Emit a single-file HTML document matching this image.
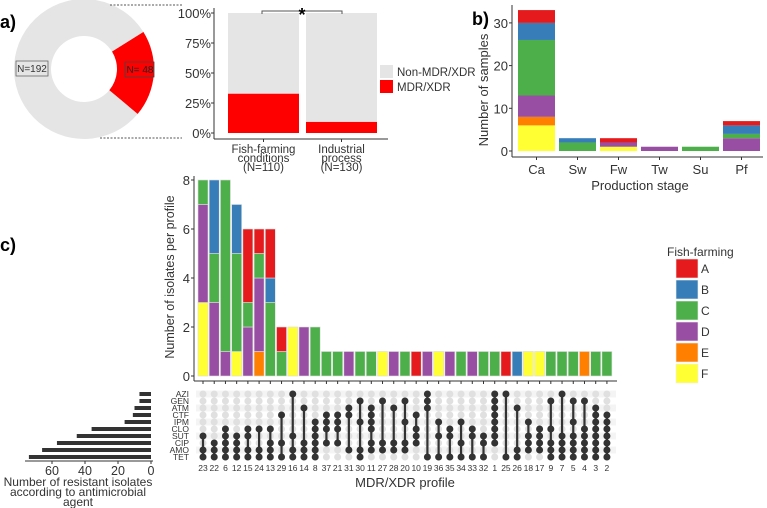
<!DOCTYPE html>
<html><head><meta charset="utf-8"><style>
body{margin:0;background:#fff;width:767px;height:508px;overflow:hidden}
svg{font-family:"Liberation Sans",Arial,sans-serif;display:block}
</style></head><body>
<svg id="fig" width="767" height="508" viewBox="0 0 767 508" xmlns="http://www.w3.org/2000/svg">
<g id="ga"></g>
<g id="gb"></g>
<g id="gc"></g>
</svg>
<script>
// ---- data ----
const farmColors = {A:'#E41A1C',B:'#377EB8',C:'#4DAF4A',D:'#984EA3',E:'#FF7F00',F:'#FFFF33'};
const farmOrder = ['F','E','D','C','B','A'];
const donutValues = [192, 48];
const pctCategories = ['Fish-farming conditions','Industrial process'];
const pctMdr = [36, 12];
const pctTotal = [110, 130];
const pctTicks = [0,25,50,75,100];
const stageCats = ['Ca','Sw','Fw','Tw','Su','Pf'];
const stageA = [3,0,1,0,0,1];
const stageB = [4,1,0,0,0,2];
const stageC = [13,2,0,0,1,1];
const stageD = [5,0,1,1,0,3];
const stageE = [2,0,0,0,0,0];
const stageF = [6,0,1,0,0,0];
const stageTicks = [0,10,20,30];
const profiles = ['23','22','6','12','15','24','13','29','16','14','8','37','21','31','30','11','27','28','20','10','19','36','35','34','33','32','1','25','26','18','17','9','7','5','4','3','2'];
const profA = [0,0,0,0,3,1,2,1,0,0,0, 0,0,0,0,0,0,0,0,1,0,0,0,0,0,0,0,1,0,0,0,0,0,0,0,0,0];
const profB = [0,3,0,2,0,0,1,0,0,0,0, 0,0,0,0,0,0,0,0,0,0,0,0,0,0,0,0,0,1,0,0,0,0,0,0,0,0];
const profC = [1,2,7,4,1,1,3,1,0,0,2, 1,1,0,1,1,0,0,1,0,0,0,0,1,0,1,1,0,0,0,0,1,1,1,0,1,1];
const profD = [4,3,1,0,2,3,0,0,0,2,0, 0,0,1,0,0,0,1,0,0,1,0,1,0,1,0,0,0,0,0,0,0,0,0,0,0,0];
const profE = [0,0,0,0,0,1,0,0,0,0,0, 0,0,0,0,0,0,0,0,0,0,0,0,0,0,0,0,0,0,0,0,0,0,0,1,0,0];
const profF = [3,0,0,1,0,0,0,0,2,0,0, 0,0,0,0,0,1,0,0,0,0,1,0,0,0,0,0,0,0,1,1,0,0,0,0,0,0];
const profTicks = [0,2,4,6,8];
const agents = ['AZI','GEN','ATM','CTF','IPM','CLO','SUT','CIP','AMO','TET'];
const agentCounts = [7,7,10,11,16,36,45,57,66,74];
const agentTicks = [0,20,40,60];
const profSets = [
 ['SUT','AMO','TET'],['CIP','AMO','TET'],['CLO','SUT','CIP','AMO','TET'],['SUT','CIP','AMO','TET'],
 ['CLO','SUT','AMO','TET'],['CLO','AMO','TET'],['CLO','CIP','AMO','TET'],['CTF','CIP','TET'],
 ['AZI','SUT','AMO','TET'],['ATM','CIP','AMO','TET'],['IPM','CLO','SUT','CIP','AMO','TET'],
 ['CTF','IPM','CLO','CIP'],['CTF','IPM','CLO','CIP'],['ATM','CTF','AMO'],['GEN','IPM','AMO','TET'],
 ['ATM','CTF','IPM','CLO','CIP','AMO'],['GEN','CIP','AMO'],['ATM','CIP','AMO'],['GEN','IPM','CIP','AMO'],
 ['CTF','CLO','SUT','CIP'],['AZI','GEN','ATM','TET'],['IPM','SUT','TET'],['CLO','SUT','TET'],
 ['IPM','CIP','TET'],['CLO','SUT','TET'],['SUT','CIP','TET'],
 ['AZI','GEN','ATM','CTF','IPM','CLO','SUT','CIP'],['AZI','TET'],['ATM','AMO','TET'],
 ['IPM','SUT','CIP','AMO'],['CLO','SUT','CIP','AMO'],['GEN','CLO','CIP','AMO','TET'],
 ['AZI','SUT','CIP','AMO','TET'],['GEN','IPM','SUT','CIP','AMO','TET'],['GEN','CLO','SUT','CIP','AMO','TET'],
 ['ATM','CTF','IPM','CLO','SUT','CIP','AMO','TET'],['CTF','IPM','CLO','SUT','CIP','AMO','TET']
];

const NS='http://www.w3.org/2000/svg';
function mk(parent,tag,attrs,text){const e=document.createElementNS(NS,tag);for(const k in attrs)e.setAttribute(k,attrs[k]);if(text!==undefined)e.textContent=text;parent.appendChild(e);return e;}

// ---- panel a ----
const ga=document.getElementById('ga');
let t=mk(ga,'text',{x:0,y:28,'font-size':18,'font-weight':'bold'},'a)');


const cx=84,cy=69,R=70,r=33;
const tot=donutValues[0]+donutValues[1];
const startDeg=-32;
function arc(a0,a1,col,name){
  const p=(a,rr)=>[cx+rr*Math.cos(a*Math.PI/180),cy+rr*Math.sin(a*Math.PI/180)];
  const [x0,y0]=p(a0,R),[x1,y1]=p(a1,R),[x2,y2]=p(a1,r),[x3,y3]=p(a0,r);
  const lg=(a1-a0)>180?1:0;
  const e=mk(ga,'path',{d:`M${x0},${y0}A${R},${R} 0 ${lg} 1 ${x1},${y1}L${x2},${y2}A${r},${r} 0 ${lg} 0 ${x3},${y3}Z`,fill:col});
  
  
}
const redSpan=donutValues[1]/tot*360;
arc(startDeg,startDeg+redSpan,'#FF0000','donut-mdr-slice');
arc(startDeg+redSpan,startDeg+360,'#E5E5E5','donut-non-mdr-slice');
mk(ga,'rect',{x:16,y:61,width:32,height:15,fill:'#E5E5E5',stroke:'#666','stroke-width':0.8});
t=mk(ga,'text',{x:32,y:72,'font-size':10,'text-anchor':'middle',fill:'#333'},'N='+donutValues[0]);


mk(ga,'rect',{x:125,y:62,width:29,height:15,fill:'#FF0000',stroke:'#444','stroke-width':0.8});
t=mk(ga,'text',{x:140,y:73,'font-size':10,'text-anchor':'middle',fill:'#222'},'N= '+donutValues[1]);


mk(ga,'line',{x1:110,y1:5,x2:182,y2:5,stroke:'#555','stroke-dasharray':'2,1.5'});
mk(ga,'line',{x1:100,y1:138,x2:182,y2:138,stroke:'#555','stroke-dasharray':'2,1.5'});
// percent bars
const py=v=>133-v*1.2;
pctTicks.forEach(v=>{
  t=mk(ga,'text',{x:211,y:py(v)+5,'font-size':13,'text-anchor':'end',fill:'#333'},v+'%');
  
  
  mk(ga,'line',{x1:211,y1:py(v),x2:214,y2:py(v),stroke:'#333'});
});
mk(ga,'line',{x1:214,y1:8,x2:214,y2:139,stroke:'#333'});
mk(ga,'line',{x1:214,y1:139,x2:388,y2:139,stroke:'#333'});
const pbx=[228,306];
pctCategories.forEach((c,i)=>{
  const m=pctMdr[i]/pctTotal[i]*100;
  let b=mk(ga,'rect',{x:pbx[i],y:py(100),width:71,height:py(m)-py(100),fill:'#E5E5E5'});
  
  
  b=mk(ga,'rect',{x:pbx[i],y:py(m),width:71,height:py(0)-py(m),fill:'#FF0000'});
  
  
  const xm=pbx[i]+35.5;
  mk(ga,'line',{x1:xm,y1:139,x2:xm,y2:142,stroke:'#333'});
  const lines=i===0?['Fish-farming','conditions','(N='+pctTotal[i]+')']:['Industrial','process','(N='+pctTotal[i]+')'];
  lines.forEach((s,j)=>{t=mk(ga,'text',{x:xm,y:153+j*9,'font-size':11.5,'text-anchor':'middle',fill:'#333'},s);
    
    });
});
mk(ga,'path',{d:'M262,14V11H342V14',fill:'none',stroke:'#555'});
t=mk(ga,'text',{x:302,y:21,'font-size':18,'font-weight':'bold','text-anchor':'middle'},'*');


mk(ga,'rect',{x:380,y:65,width:13,height:13,fill:'#E5E5E5'});
t=mk(ga,'text',{x:397,y:76,'font-size':11.5,fill:'#333'},'Non-MDR/XDR');


mk(ga,'rect',{x:380,y:80,width:13,height:13,fill:'#FF0000'});
t=mk(ga,'text',{x:397,y:91,'font-size':11.5,fill:'#333'},'MDR/XDR');



// ---- panel b ----
const gb=document.getElementById('gb');
t=mk(gb,'text',{x:472,y:25,'font-size':18,'font-weight':'bold'},'b)');


const by=v=>151-v*4.27;
stageTicks.forEach(v=>{
  t=mk(gb,'text',{x:508,y:by(v)+5,'font-size':13,'text-anchor':'end',fill:'#333'},v);
  
  
  mk(gb,'line',{x1:509,y1:by(v),x2:512,y2:by(v),stroke:'#333'});
});
mk(gb,'line',{x1:512,y1:5,x2:512,y2:157,stroke:'#333'});
mk(gb,'line',{x1:512,y1:157,x2:763,y2:157,stroke:'#333'});
const stageSeries={A:stageA,B:stageB,C:stageC,D:stageD,E:stageE,F:stageF};
stageCats.forEach((c,i)=>{
  const x0=518+i*41;let acc=0;
  farmOrder.forEach(f=>{const v=stageSeries[f][i];if(!v)return;
    const b=mk(gb,'rect',{x:x0,y:by(acc+v),width:37,height:by(acc)-by(acc+v),fill:farmColors[f]});
    
    
    acc+=v;});
  mk(gb,'line',{x1:x0+18.5,y1:157,x2:x0+18.5,y2:160,stroke:'#333'});
  t=mk(gb,'text',{x:x0+18.5,y:174,'font-size':13,'text-anchor':'middle',fill:'#333'},c);
  
  
});
t=mk(gb,'text',{x:640,y:190,'font-size':13,'text-anchor':'middle',fill:'#333'},'Production stage');


t=mk(gb,'text',{x:0,y:0,'font-size':13,'text-anchor':'middle',fill:'#333',transform:'translate(488,90) rotate(-90)'},'Number of samples');



// ---- panel c ----
const gc=document.getElementById('gc');
t=mk(gc,'text',{x:0,y:251,'font-size':18,'font-weight':'bold'},'c)');


const cyv=v=>376-v*24.5;
const colX=i=>203+i*11.22;
profTicks.forEach(v=>{
  t=mk(gc,'text',{x:190,y:cyv(v)+5,'font-size':13,'text-anchor':'end',fill:'#333'},v);
  
  
  mk(gc,'line',{x1:191,y1:cyv(v),x2:194,y2:cyv(v),stroke:'#333'});
});
mk(gc,'line',{x1:194,y1:176,x2:194,y2:381,stroke:'#333'});
mk(gc,'line',{x1:194,y1:381,x2:617,y2:381,stroke:'#333'});
t=mk(gc,'text',{x:0,y:0,'font-size':12.5,'text-anchor':'middle',fill:'#333',transform:'translate(174,277) rotate(-90)'},'Number of isolates per profile');


const profSeries={A:profA,B:profB,C:profC,D:profD,E:profE,F:profF};
profiles.forEach((p,i)=>{
  let acc=0;const x0=colX(i)-5;
  farmOrder.forEach(f=>{const v=profSeries[f][i];if(!v)return;
    const b=mk(gc,'rect',{x:x0,y:cyv(acc+v),width:10,height:cyv(acc)-cyv(acc+v),fill:farmColors[f],stroke:'#ddd','stroke-width':0.6});
    
    
    acc+=v;});
  mk(gc,'line',{x1:colX(i),y1:381,x2:colX(i),y2:384,stroke:'#333'});
});
// matrix
const rowY=j=>394+j*7;
agents.forEach((a,j)=>{
  if(j%2===0) mk(gc,'rect',{x:196,y:rowY(j)-3.5,width:420,height:7,fill:'#F4F4F4'});
  t=mk(gc,'text',{x:189,y:rowY(j)+3,'font-size':8.5,'text-anchor':'end',fill:'#333'},a);
  
  
});
profiles.forEach((p,i)=>{
  const x=colX(i);
  agents.forEach((a,j)=>mk(gc,'circle',{cx:x,cy:rowY(j),r:3.5,fill:'#E0E0E0'}));
  const idx=profSets[i].map(a=>agents.indexOf(a));
  const mn=Math.min(...idx),mx=Math.max(...idx);
  mk(gc,'line',{x1:x,y1:rowY(mn),x2:x,y2:rowY(mx),stroke:'#333','stroke-width':2.2});
  idx.forEach(j=>{const d=mk(gc,'circle',{cx:x,cy:rowY(j),r:3.5,fill:'#333'});
    
    });
  t=mk(gc,'text',{x:x,y:471,'font-size':8.5,'text-anchor':'middle',fill:'#333'},p);
  
  
});
t=mk(gc,'text',{x:405,y:487,'font-size':13,'text-anchor':'middle',fill:'#333'},'MDR/XDR profile');


// agent bars
const ax=v=>151-v*1.65;
agents.forEach((a,j)=>{
  const b=mk(gc,'rect',{x:ax(agentCounts[j]),y:rowY(j)-2,width:ax(0)-ax(agentCounts[j]),height:4,fill:'#333'});
  
  
});
mk(gc,'line',{x1:25,y1:461,x2:153,y2:461,stroke:'#333'});
agentTicks.forEach(v=>{
  mk(gc,'line',{x1:ax(v),y1:461,x2:ax(v),y2:464,stroke:'#333'});
  t=mk(gc,'text',{x:ax(v),y:475,'font-size':12.5,'text-anchor':'middle',fill:'#333'},v);
  
  
});
['Number of resistant isolates','according to antimicrobial','agent'].forEach((s,k)=>{
  t=mk(gc,'text',{x:78,y:486+k*10,'font-size':12,'text-anchor':'middle',fill:'#333'},s);
  
  
});
// legend
t=mk(gc,'text',{x:667,y:256,'font-size':12,fill:'#333'},'Fish-farming');


['A','B','C','D','E','F'].forEach((f,k)=>{
  const y=259+k*21;
  const b=mk(gc,'rect',{x:676,y:y,width:22,height:19,fill:farmColors[f],stroke:'#eee','stroke-width':0.6});
  
  
  t=mk(gc,'text',{x:701,y:y+14,'font-size':12,fill:'#333'},f);
  
  
});
</script>
</body></html>
